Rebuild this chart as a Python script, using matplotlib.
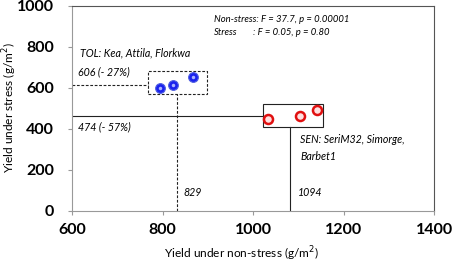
import matplotlib.pyplot as plt
from matplotlib.patches import Rectangle

plt.rcParams['font.family'] = ['Lato', 'DejaVu Sans']

# genotype means (g/m2)
tol_x = [795, 823, 867]
tol_y = [600, 617, 654]
sen_x = [1033, 1104, 1141]
sen_y = [449, 463, 493]

# group mean guide lines as drawn
tol_line = (832, 615)
sen_line = (1082, 463)
tol_box = (768, 571, 898, 683)
sen_box = (1022, 410, 1155, 522)

xticks = [600, 800, 1000, 1200, 1400]
yticks = [0, 200, 400, 600, 800, 1000]

fig = plt.figure(figsize=(4.54, 2.62), dpi=100)
ax = fig.add_axes([0.1586, 0.1947, 0.7974, 0.7824])
ax.set_xlim(600, 1400)
ax.set_ylim(0, 1000)
ax.set_xticks(xticks)
ax.set_yticks(yticks)
ax.tick_params(labelsize=11.5, length=3, color='#999999')
ax.tick_params(axis='x', pad=6)
ax.tick_params(axis='y', pad=10)
for lab in ax.get_xticklabels() + ax.get_yticklabels():
    lab.set_fontweight('bold')
for s in ['left', 'bottom']:
    ax.spines[s].set_color('#999999')
for s in ['top', 'right']:
    ax.spines[s].set_color('#555555')
fig.text(0.532, 1 - 254 / 262, 'Yield under non-stress (g/m$^2$)', fontsize=8.6,
         ha='center', va='center')
fig.text(10 / 454, 1 - 108 / 262, 'Yield under stress (g/m$^2$)', fontsize=8.6,
         ha='center', va='center', rotation=90)

# TOL group: dashed box and guides
x0, y0, x1, y1 = tol_box
ax.add_patch(Rectangle((x0, y0), x1 - x0, y1 - y0, fill=False, ls=(0, (2.5, 1.5)), lw=0.8, color='#222222'))
ax.plot([600, x0], [tol_line[1]] * 2, ls=(0, (2.5, 1.5)), lw=0.8, color='#222222')
ax.plot([tol_line[0]] * 2, [0, y0], ls=(0, (2.5, 1.5)), lw=0.8, color='#222222')

# SEN group: solid box and guides
x0, y0, x1, y1 = sen_box
ax.add_patch(Rectangle((x0, y0), x1 - x0, y1 - y0, fill=False, lw=0.8, color='#222222'))
ax.plot([600, x0], [sen_line[1]] * 2, lw=0.8, color='#222222')
ax.plot([sen_line[0]] * 2, [0, y0], lw=0.8, color='#222222')

ax.plot(tol_x, tol_y, 'o', ms=7, mfc='#1a22ee', mec='#5060e0', mew=0.8, zorder=5)
ax.plot(tol_x, tol_y, 'o', ms=2.5, mfc='#aab4ff', mec='none', zorder=6)
ax.plot(sen_x, sen_y, 'o', ms=6.5, mfc='#ffe0e0', mec='#e01010', mew=1.8, zorder=5)

kw = dict(fontsize=7.7, style='italic', va='center')
ax.text(618, 771, 'TOL: Kea, Attila, Florkwa', **kw)
ax.text(613, 678, '606 (- 27%)', **kw)
ax.text(613, 410, '474 (- 57%)', **kw)
ax.text(847, 88, '829', **kw)
ax.text(1099, 88, '1094', **kw)
ax.text(1104, 351, 'SEN: SeriM32, Simorge,', **kw)
ax.text(1104, 268, 'Barbet1', **kw)
ax.text(914, 932, 'Non-stress: F = 37.7, p = 0.00001', fontsize=6.8, style='italic', va='center')
ax.text(914, 873, 'Stress', fontsize=6.8, style='italic', va='center')
ax.text(1000, 873, ': F = 0.05, p = 0.80', fontsize=6.8, style='italic', va='center')

fig.savefig('out.png', dpi=100)
